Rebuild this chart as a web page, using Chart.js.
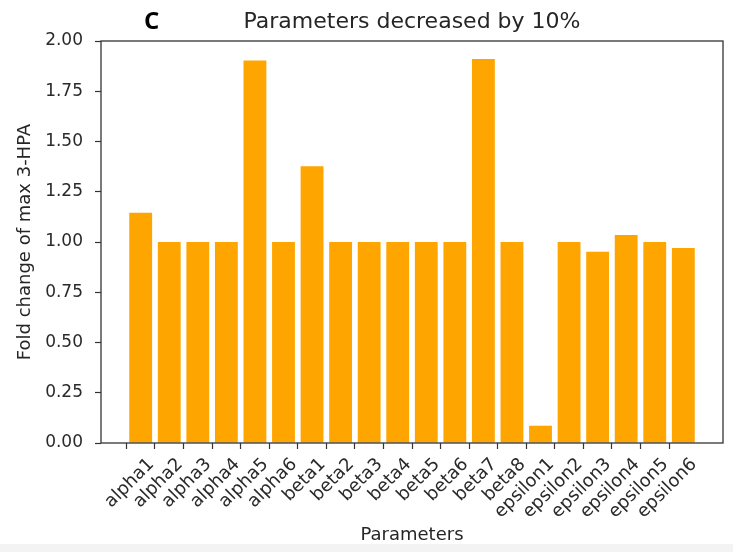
<!DOCTYPE html>
<html>
<head>
<meta charset="utf-8">
<script src="https://cdn.jsdelivr.net/npm/chart.js@4.4.0/dist/chart.umd.min.js"></script>
<style>
  body { margin: 0; background: #f3f3f3; }
  #chart { display: block; background: #fff; }
</style>
</head>
<body>
<canvas id="chart" width="733" height="544"></canvas>
<script>
// data
const categories = ['alpha1', 'alpha2', 'alpha3', 'alpha4', 'alpha5', 'alpha6',
  'beta1', 'beta2', 'beta3', 'beta4', 'beta5', 'beta6', 'beta7', 'beta8',
  'epsilon1', 'epsilon2', 'epsilon3', 'epsilon4', 'epsilon5', 'epsilon6'];
const foldChange = [1.145, 1.0, 1.0, 1.0, 1.903, 1.0,
  1.377, 1.0, 1.0, 1.0, 1.0, 1.0, 1.91, 1.0,
  0.086, 1.0, 0.952, 1.035, 1.0, 0.97];
const yTicks = [0, 0.25, 0.5, 0.75, 1.0, 1.25, 1.5, 1.75, 2.0];

const titleText = 'Parameters decreased by 10%';
const panelLabel = 'C';
const font = 'DejaVu Sans';
const ink = '#333';

// frame on all four sides + title + panel letter
const frameAndTitle = {
  id: 'frameAndTitle',
  afterDraw(chart) {
    const { ctx, chartArea: a } = chart;
    ctx.save();
    ctx.strokeStyle = ink;
    ctx.lineWidth = 1.3;
    ctx.strokeRect(a.left, a.top, a.right - a.left, a.bottom - a.top);

    ctx.fillStyle = '#262626';
    ctx.font = '22px "' + font + '"';
    ctx.textAlign = 'center';
    ctx.textBaseline = 'alphabetic';
    ctx.fillText(titleText, (a.left + a.right) / 2, a.top - 13);

    ctx.fillStyle = '#000';
    ctx.font = 'bold 24px "Open Sans"';
    ctx.textAlign = 'left';
    ctx.fillText(panelLabel, 144, a.top - 12);
    ctx.restore();
  }
};

const ctx = document.getElementById('chart').getContext('2d');
new Chart(ctx, {
  type: 'bar',
  data: {
    datasets: [{
      data: foldChange.map((v, i) => ({ x: i + 0.5, y: v })),
      backgroundColor: '#ffa500',
      barPercentage: 0.8,
      categoryPercentage: 1.0
    }]
  },
  options: {
    responsive: false,
    animation: false,
    layout: { padding: { left: 0, right: 10, top: 41, bottom: 0 } },
    plugins: { legend: { display: false }, tooltip: { enabled: false } },
    scales: {
      x: {
        type: 'linear',
        offset: false,
        min: -0.89,
        max: 20.89,
        afterBuildTicks: s => { s.ticks = categories.map((_, i) => ({ value: i })); },
        afterFit: s => { s.height = 101; },
        border: { display: false },
        grid: { offset: false, drawOnChartArea: false, drawTicks: true, tickLength: 6, tickColor: ink, tickWidth: 1.2 },
        ticks: {
          autoSkip: false,
          minRotation: 45,
          maxRotation: 45,
          labelOffset: 25,
          padding: 5,
          color: '#2a2a2a',
          font: { family: font, size: 18 },
          callback: v => categories[v]
        },
        title: {
          display: true,
          text: 'Parameters',
          color: '#262626',
          font: { family: font, size: 18, lineHeight: 1 },
          padding: { top: 0, bottom: 0 }
        }
      },
      y: {
        min: 0,
        max: 2,
        afterBuildTicks: s => { s.ticks = yTicks.map(v => ({ value: v })); },
        afterFit: s => { s.width = 101; },
        border: { display: false },
        grid: { drawOnChartArea: false, drawTicks: true, tickLength: 6, tickColor: ink, tickWidth: 1.2 },
        ticks: {
          padding: 12,
          color: '#2a2a2a',
          font: { family: font, size: 17 },
          callback: v => v.toFixed(2)
        },
        title: {
          display: true,
          text: 'Fold change of max 3-HPA',
          color: '#262626',
          font: { family: font, size: 18 },
          padding: { top: 15, bottom: 0 }
        }
      }
    }
  },
  plugins: [frameAndTitle]
});
</script>
</body>
</html>
